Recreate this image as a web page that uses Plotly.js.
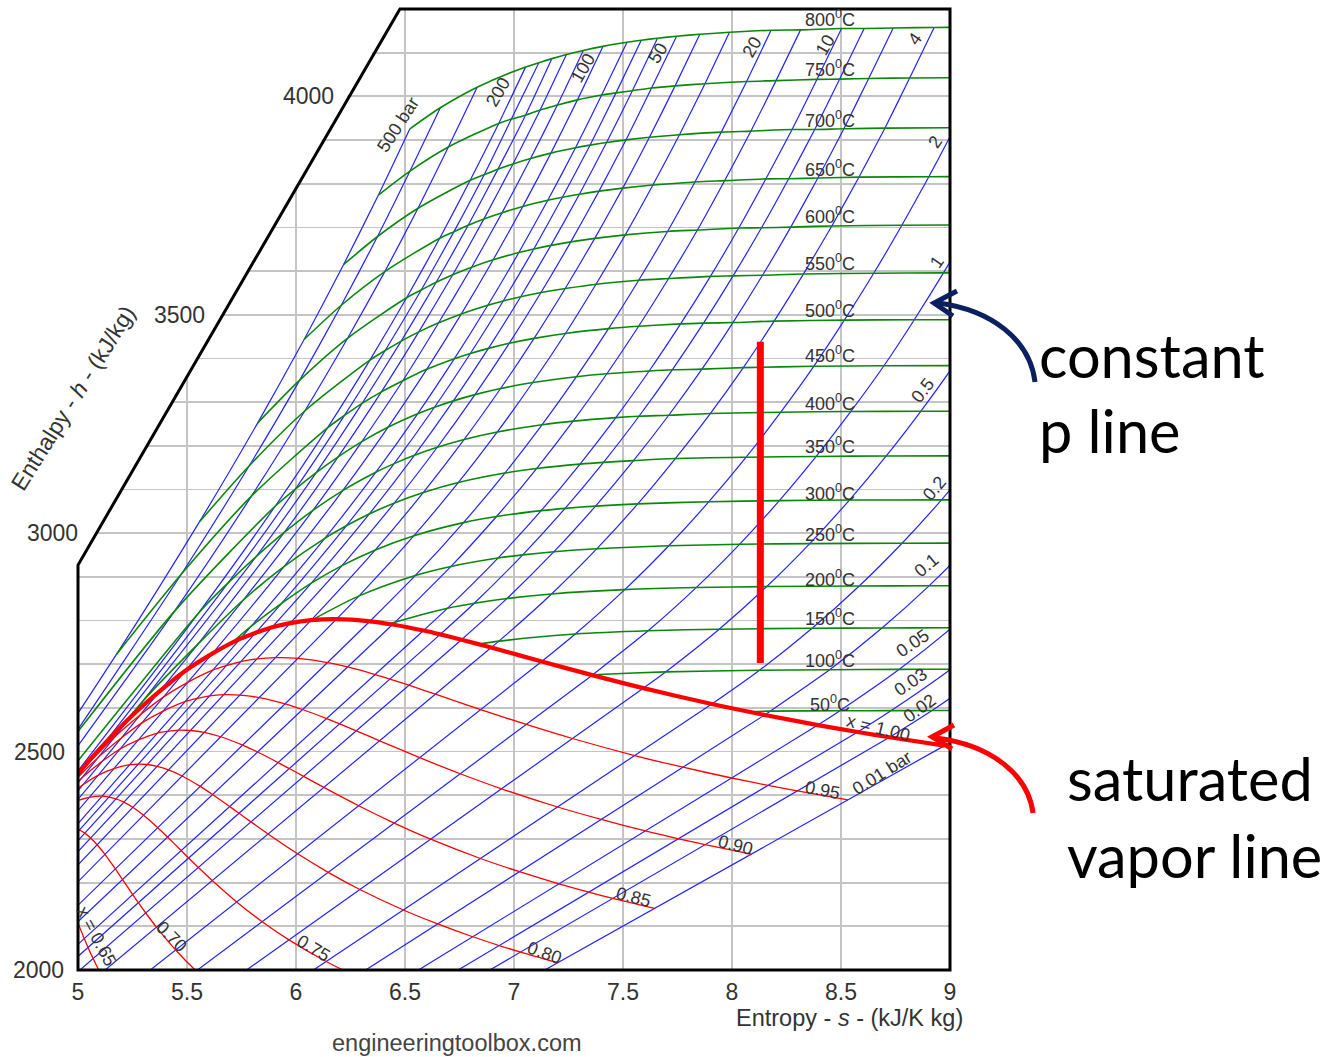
<!DOCTYPE html>
<html>
<head>
<meta charset="utf-8">
<script src="https://cdn.plot.ly/plotly-3.0.1.min.js"></script>
<style>
html,body{margin:0;padding:0;background:#ffffff;}
#chart{width:1326px;height:1057px;}
</style>
</head>
<body>
<div id="chart"></div>
<script>
const _ = null;

// ---------- isobars drawn (bar) ----------
const PRESSURES_BAR = [0.01, 0.02, 0.03, 0.05, 0.1, 0.2, 0.5, 1, 2, 4, 6, 8, 10, 15, 20, 30, 40, 50, 60, 70, 80, 100, 120, 140, 160, 180, 200, 300, 400, 500];

// ---------- isotherm temperatures (deg C) ----------
const TEMPS_C = [50, 100, 150, 200, 250, 300, 350, 400, 450, 500, 550, 600, 650, 700, 750, 800];

// ---------- saturation data for the sub-critical isobars (same order as PRESSURES_BAR) ----------
const SAT_SF = [0.1059, 0.2606, 0.3543, 0.4763, 0.6492, 0.8320, 1.0912, 1.3028, 1.5302, 1.7765, 1.9308, 2.0457, 2.1381, 2.3143, 2.4468, 2.6455, 2.7966, 2.9207, 3.0275, 3.1220, 3.2077, 3.3603, 3.4970, 3.6240, 3.7461, 3.8709, 4.0155];
const SAT_HF = [29.3, 73.4, 101.0, 137.8, 191.8, 251.4, 340.5, 417.5, 504.7, 604.7, 670.4, 720.9, 762.5, 844.6, 908.5, 1008.3, 1087.4, 1154.5, 1213.9, 1267.4, 1317.1, 1408.1, 1491.5, 1571.5, 1650.1, 1731.8, 1826.6];
const SAT_SG = [8.9749, 8.7227, 8.5766, 8.3939, 8.1501, 7.9073, 7.5931, 7.3589, 7.1270, 6.8955, 6.7593, 6.6616, 6.5850, 6.4430, 6.3390, 6.1857, 6.0696, 5.9737, 5.8902, 5.8148, 5.7450, 5.6159, 5.4924, 5.3737, 5.2441, 5.1038, 4.9299];
const SAT_HG = [2513.7, 2532.9, 2544.8, 2560.7, 2583.9, 2608.9, 2645.2, 2675.0, 2706.3, 2738.1, 2756.2, 2768.3, 2777.1, 2791.0, 2798.3, 2803.2, 2800.8, 2794.2, 2784.6, 2772.0, 2758.5, 2724.4, 2685.0, 2637.7, 2580.4, 2508.5, 2410.6];

// ---------- superheated entropy s (kJ/kg K): rows = PRESSURES_BAR, columns = TEMPS_C ----------
const SUPER_S = [
  [9.2377, _, _, _, _, _, _, _, _, _, _, _, _, _, _, _],
  [8.9175, 9.1906, _, _, _, _, _, _, _, _, _, _, _, _, _, _],
  [8.7305, 9.0034, 9.2438, _, _, _, _, _, _, _, _, _, _, _, _, _],
  [8.4948, 8.7676, 9.0081, 9.2237, _, _, _, _, _, _, _, _, _, _, _, _],
  [8.1749, 8.4479, 8.6882, 8.9038, 9.1002, 9.2813, _, _, _, _, _, _, _, _, _, _],
  [_, 8.1262, 8.3676, 8.5835, 8.7800, 8.9611, 9.1280, 9.2876, _, _, _, _, _, _, _, _],
  [_, 7.6953, 7.9413, 8.1592, 8.3568, 8.5386, 8.7076, 8.8658, 9.0166, 9.1549, 9.2890, _, _, _, _, _],
  [_, 7.3611, 7.6148, 7.8356, 8.0346, 8.2172, 8.3862, 8.5452, 8.6970, 8.8362, 8.9700, 9.0999, 9.2210, _, _, _],
  [_, _, 7.2810, 7.5081, 7.7100, 7.8941, 8.0649, 8.2236, 8.3750, 8.5153, 8.6500, 8.7792, 8.9030, 9.0220, 9.1360, 9.2479],
  [_, _, 6.9306, 7.1723, 7.3804, 7.5677, 7.7399, 7.9003, 8.0520, 8.1933, 8.3280, 8.4580, 8.5820, 8.7012, 8.8150, 8.9273],
  [_, _, _, 6.9683, 7.1833, 7.3740, 7.5481, 7.7097, 7.8620, 8.0041, 8.1400, 8.2695, 8.3940, 8.5132, 8.6270, 8.7395],
  [_, _, _, 6.8176, 7.0401, 7.2345, 7.4106, 7.5734, 7.7260, 7.8692, 8.0050, 8.1354, 8.2600, 8.3794, 8.4940, 8.6061],
  [_, _, _, 6.6955, 6.9265, 7.1246, 7.3029, 7.4670, 7.6200, 7.7642, 7.9010, 8.0311, 8.1550, 8.2755, 8.3900, 8.5024],
  [_, _, _, 6.4537, 6.7111, 6.9198, 7.1036, 7.2709, 7.4260, 7.5718, 7.7090, 7.8414, 7.9660, 8.0869, 8.2020, 8.3145],
  [_, _, _, _, 6.5475, 6.7684, 6.9583, 7.1292, 7.2866, 7.4337, 7.5720, 7.7043, 7.8300, 7.9509, 8.0670, 8.1791],
  [_, _, _, _, 6.2893, 6.5412, 6.7450, 6.9235, 7.0856, 7.2359, 7.3760, 7.5103, 7.6370, 7.7590, 7.8760, 7.9885],
  [_, _, _, _, _, 6.3639, 6.5843, 6.7714, 6.9386, 7.0922, 7.2350, 7.3706, 7.4990, 7.6214, 7.7390, 7.8523],
  [_, _, _, _, _, 6.2110, 6.4516, 6.6483, 6.8210, 6.9781, 7.1237, 7.2605, 7.3900, 7.5136, 7.6310, 7.7458],
  [_, _, _, _, _, 6.0703, 6.3357, 6.5432, 6.7219, 6.8826, 7.0307, 7.1693, 7.3000, 7.4247, 7.5430, 7.6582],
  [_, _, _, _, _, 5.9337, 6.2305, 6.4502, 6.6353, 6.8000, 6.9506, 7.0910, 7.2220, 7.3487, 7.4680, 7.5836],
  [_, _, _, _, _, 5.7937, 6.1321, 6.3658, 6.5579, 6.7266, 6.8799, 7.0221, 7.1550, 7.2822, 7.4020, 7.5185],
  [_, _, _, _, _, _, 5.9460, 6.2141, 6.4219, 6.5995, 6.7585, 6.9045, 7.0408, 7.1693, 7.2910, 7.4085],
  [_, _, _, _, _, _, 5.7580, 6.0775, 6.3020, 6.4900, 6.6545, 6.8057, 6.9456, 7.0760, 7.1990, 7.3180],
  [_, _, _, _, _, _, 5.5500, 5.9460, 6.1932, 6.3916, 6.5633, 6.7190, 6.8620, 6.9954, 7.1200, 7.2405],
  [_, _, _, _, _, _, 5.3000, 5.8172, 6.0927, 6.3033, 6.4826, 6.6431, 6.7898, 6.9259, 7.0530, 7.1740],
  [_, _, _, _, _, _, _, 5.6875, 5.9980, 6.2224, 6.4090, 6.5746, 6.7246, 6.8630, 6.9880, 7.1140],
  [_, _, _, _, _, _, _, 5.5525, 5.9043, 6.1446, 6.3389, 6.5075, 6.6593, 6.7990, 6.9300, 7.0534],
  [_, _, _, _, _, _, _, 4.4758, 5.4421, 5.7956, 6.0402, 6.2373, 6.4074, 6.5598, 6.6990, 6.8310],
  [_, _, _, _, _, _, _, 4.1162, 4.9459, 5.4746, 5.7857, 6.0170, 6.2079, 6.3740, 6.5230, 6.6620],
  [_, _, _, _, _, _, _, 3.9313, 4.5896, 5.1762, 5.5563, 5.8245, 6.0373, 6.2179, 6.3780, 6.5225]
];

// ---------- superheated enthalpy h (kJ/kg): rows = PRESSURES_BAR, columns = TEMPS_C ----------
const SUPER_H = [
  [2594.0, _, _, _, _, _, _, _, _, _, _, _, _, _, _, _],
  [2593.9, 2688.7, _, _, _, _, _, _, _, _, _, _, _, _, _, _],
  [2593.8, 2688.6, 2783.5, _, _, _, _, _, _, _, _, _, _, _, _, _],
  [2593.4, 2688.3, 2783.4, 2879.7, _, _, _, _, _, _, _, _, _, _, _, _],
  [2592.6, 2687.5, 2783.0, 2879.5, 2977.3, 3076.5, _, _, _, _, _, _, _, _, _, _],
  [_, 2686.2, 2782.3, 2879.0, 2977.0, 3076.3, 3177.0, 3279.4, _, _, _, _, _, _, _, _],
  [_, 2682.4, 2780.2, 2877.8, 2976.2, 3075.8, 3176.8, 3279.0, 3383.6, 3488.7, 3595.6, _, _, _, _, _],
  [_, 2675.8, 2776.6, 2875.5, 2974.5, 3074.5, 3175.7, 3278.6, 3383.3, 3488.7, 3596.0, 3705.6, 3816.5, _, _, _],
  [_, _, 2769.1, 2870.7, 2971.2, 3072.1, 3174.0, 3277.0, 3382.0, 3487.7, 3595.0, 3704.8, 3816.0, 3928.4, 4043.0, 4158.8],
  [_, _, 2752.8, 2860.9, 2964.5, 3067.1, 3170.9, 3273.9, 3379.0, 3485.5, 3593.5, 3703.3, 3815.0, 3927.2, 4042.0, 4157.8],
  [_, _, _, 2850.6, 2957.6, 3062.0, 3166.1, 3270.0, 3375.5, 3482.2, 3590.5, 3700.7, 3813.0, 3925.8, 4041.0, 4156.4],
  [_, _, _, 2839.7, 2950.4, 3056.9, 3162.2, 3267.7, 3374.0, 3480.8, 3589.0, 3699.1, 3811.5, 3924.1, 4039.5, 4155.3],
  [_, _, _, 2828.3, 2943.1, 3051.6, 3158.2, 3264.5, 3371.3, 3479.1, 3588.0, 3698.6, 3811.0, 3924.1, 4039.0, 4155.2],
  [_, _, _, 2796.0, 2923.9, 3038.2, 3148.0, 3256.5, 3365.0, 3473.7, 3583.0, 3694.1, 3807.0, 3920.5, 4036.0, 4152.2],
  [_, _, _, _, 2903.3, 3024.2, 3137.7, 3248.4, 3358.2, 3468.3, 3579.0, 3690.7, 3804.0, 3918.2, 4034.0, 4151.2],
  [_, _, _, _, 2856.5, 2994.3, 3116.1, 3231.7, 3344.9, 3457.2, 3570.0, 3682.8, 3797.0, 3912.2, 4029.0, 4146.9],
  [_, _, _, _, _, 2961.7, 3093.3, 3214.5, 3331.2, 3446.0, 3560.0, 3674.9, 3790.0, 3906.3, 4024.0, 4142.3],
  [_, _, _, _, _, 2925.7, 3069.3, 3196.7, 3317.2, 3434.7, 3550.9, 3666.9, 3783.0, 3900.3, 4019.0, 4137.7],
  [_, _, _, _, _, 2885.6, 3043.9, 3178.3, 3302.9, 3423.1, 3541.3, 3658.8, 3776.0, 3894.3, 4013.0, 4133.1],
  [_, _, _, _, _, 2839.2, 3016.9, 3159.2, 3288.3, 3411.4, 3531.6, 3650.6, 3769.0, 3888.3, 4008.0, 4128.5],
  [_, _, _, _, _, 2786.5, 2988.1, 3139.4, 3273.3, 3399.5, 3521.8, 3642.4, 3762.0, 3882.2, 4003.0, 4123.8],
  [_, _, _, _, _, _, 2924.0, 3097.5, 3242.4, 3375.1, 3502.0, 3625.8, 3748.1, 3870.0, 3992.0, 4114.5],
  [_, _, _, _, _, _, 2847.0, 3052.2, 3209.7, 3349.0, 3481.6, 3608.8, 3733.8, 3857.7, 3980.0, 4105.1],
  [_, _, _, _, _, _, 2746.0, 3001.6, 3174.8, 3323.5, 3460.8, 3591.7, 3719.5, 3845.3, 3969.0, 4095.8],
  [_, _, _, _, _, _, 2617.0, 2946.4, 3138.8, 3297.2, 3439.7, 3574.4, 3705.0, 3832.9, 3957.0, 4086.4],
  [_, _, _, _, _, _, _, 2885.7, 3101.5, 3269.6, 3418.1, 3556.8, 3690.3, 3820.4, 3948.0, 4076.9],
  [_, _, _, _, _, _, _, 2816.9, 3061.7, 3241.2, 3396.2, 3539.0, 3675.3, 3807.8, 3938.0, 4067.5],
  [_, _, _, _, _, _, _, 2152.8, 2821.0, 3084.8, 3279.7, 3446.7, 3598.7, 3743.9, 3884.0, 4021.0],
  [_, _, _, _, _, _, _, 1931.4, 2511.8, 2906.5, 3154.4, 3350.4, 3521.8, 3679.2, 3829.0, 3973.9],
  [_, _, _, _, _, _, _, 1874.0, 2284.7, 2722.5, 3025.4, 3252.6, 3443.5, 3614.6, 3774.0, 3925.8]
];

// ---------- saturated-vapour start of the isotherms 50..350 C ----------
const ISO_SAT_S = [8.0748, 7.3542, 6.8371, 6.4302, 6.0721, 5.7059, 5.2112];
const ISO_SAT_H = [2591.3, 2675.6, 2745.9, 2792.0, 2800.9, 2749.0, 2563.9];

// ---------- steam quality lines ----------
const QUALITY = [0.95, 0.90, 0.85, 0.80, 0.75, 0.70, 0.65];

// ---------- highlighted vertical (constant entropy) segment ----------
const ISENTROPE_S = [8.13, 8.13];
const ISENTROPE_H = [2703, 3438];

// ---------- label texts ----------
const ISOBAR_LABELS = ['500 bar', '200', '100', '50', '20', '10', '4', '2', '1', '0.5', '0.2', '0.1', '0.05', '0.03', '0.02', '0.01 bar'];
const QUALITY_LABELS = ['x = 1.00', '0.95', '0.90', '0.85', '0.80', '0.75', '0.70', 'x = 0.65'];
const H_TICKS = [4000, 3500, 3000, 2500, 2000];

// ================= build traces =================
const BLUE = 'rgb(35,35,255)';
const GREEN = 'rgb(10,135,10)';
const RED = 'rgb(255,0,0)';
const traces = [];

PRESSURES_BAR.forEach((p, i) => {
  const xs = [], ys = [];
  if (i < SAT_SG.length) { xs.push(SAT_SF[i], SAT_SG[i]); ys.push(SAT_HF[i], SAT_HG[i]); }
  SUPER_S[i].forEach((s, j) => { if (s !== null) { xs.push(s); ys.push(SUPER_H[i][j]); } });
  traces.push({type: 'scatter', mode: 'lines', x: xs, y: ys, name: p + ' bar',
    line: {color: BLUE, width: 1.2, shape: 'spline', smoothing: 0.6}, hoverinfo: 'skip', showlegend: false});
});

TEMPS_C.forEach((t, j) => {
  const xs = [], ys = [];
  if (j < ISO_SAT_S.length) { xs.push(ISO_SAT_S[j]); ys.push(ISO_SAT_H[j]); }
  for (let i = PRESSURES_BAR.length - 1; i >= 0; i--) {
    const s = SUPER_S[i][j];
    if (s !== null) { xs.push(s); ys.push(SUPER_H[i][j]); }
  }
  traces.push({type: 'scatter', mode: 'lines', x: xs, y: ys, name: t + ' C',
    line: {color: GREEN, width: 1.6, shape: 'spline', smoothing: 0.8}, hoverinfo: 'skip', showlegend: false});
});

QUALITY.forEach(q => {
  const xs = SAT_SG.map((sg, i) => SAT_SF[i] + q * (sg - SAT_SF[i]));
  const ys = SAT_HG.map((hg, i) => SAT_HF[i] + q * (hg - SAT_HF[i]));
  traces.push({type: 'scatter', mode: 'lines', x: xs, y: ys, name: 'x=' + q,
    line: {color: RED, width: 1.3, shape: 'spline', smoothing: 0.8}, hoverinfo: 'skip', showlegend: false});
});

traces.push({type: 'scatter', mode: 'lines', x: SAT_SG, y: SAT_HG, name: 'saturated vapour',
  line: {color: RED, width: 4.2, shape: 'spline', smoothing: 0.8}, hoverinfo: 'skip', showlegend: false});

traces.push({type: 'scatter', mode: 'lines', x: ISENTROPE_S, y: ISENTROPE_H, name: 'isentrope',
  line: {color: RED, width: 7}, hoverinfo: 'skip', showlegend: false});

// ================= annotations =================
const PX = px => (px - 78) / 872;
const PY = py => (970 - py) / 961;
const ARIAL = 'Liberation Sans, Arial, sans-serif';
const LBL_FONT = {family: ARIAL, size: 18, color: '#333333'};
const ann = [];

// isotherm labels
const ISO_LABEL_H = [2611, 2710, 2806, 2897, 3000, 3094, 3200, 3300, 3408, 3511, 3619, 3728, 3836, 3948, 4063, 4179];
TEMPS_C.forEach((t, j) => {
  ann.push({xref: 'x', yref: 'y', x: 8.45, y: ISO_LABEL_H[j], text: t + '<sup>0</sup>C', showarrow: false,
    font: LBL_FONT, xanchor: 'center', yanchor: 'middle'});
});

// isobar labels
const ISOBAR_POS = [[6.468, 3934, -57], [6.927, 4010, -60], [7.317, 4065, -60], [7.661, 4099, -58], [8.092, 4113, -60],
  [8.427, 4118, -60], [8.839, 4131, -55], [8.931, 3896, -55], [8.940, 3621, -55], [8.876, 3328, -52], [8.931, 3103, -50],
  [8.894, 2927, -40], [8.830, 2749, -34], [8.820, 2660, -34], [8.862, 2600, -36], [8.688, 2451, -32]];
ISOBAR_LABELS.forEach((txt, k) => {
  const p = ISOBAR_POS[k];
  ann.push({xref: 'x', yref: 'y', x: p[0], y: p[1], text: txt, textangle: p[2], showarrow: false,
    xanchor: 'center', yanchor: 'middle', font: LBL_FONT});
});

// quality labels
const QUALITY_POS = [[8.670, 2554, 14], [8.413, 2412, 11], [8.014, 2286, 15], [7.546, 2167, 15], [7.142, 2039, 20],
  [6.078, 2050, 31], [5.431, 2076, 45], [5.087, 2076, 62]];
QUALITY_LABELS.forEach((txt, k) => {
  const p = QUALITY_POS[k];
  ann.push({xref: 'x', yref: 'y', x: p[0], y: p[1], text: txt, textangle: p[2], showarrow: false,
    xanchor: 'center', yanchor: 'middle', font: LBL_FONT});
});

// enthalpy tick labels along the cut edge
const H_TICK_RIGHT_PX = [336, 207, 80, 67, 66];
H_TICKS.forEach((h, k) => {
  ann.push({xref: 'paper', yref: 'paper', x: PX(H_TICK_RIGHT_PX[k]), y: (h - 2000) / 2200, text: String(h),
    showarrow: false, xanchor: 'right', yanchor: 'middle',
    font: {family: ARIAL, size: 23, color: '#333333'}});
});

// axis titles & credit
ann.push({xref: 'paper', yref: 'paper', x: PX(73), y: PY(398), text: 'Enthalpy - <i>h</i> - (kJ/kg)', textangle: -58,
  xanchor: 'center', yanchor: 'middle',
  showarrow: false, font: {family: ARIAL, size: 23, color: '#333333'}});
ann.push({xref: 'paper', yref: 'paper', x: PX(965), y: PY(1018), text: 'Entropy - <i>s</i> - (kJ/K kg)',
  showarrow: false, xanchor: 'right', yanchor: 'middle', font: {family: ARIAL, size: 23.5, color: '#333333'}});
ann.push({xref: 'paper', yref: 'paper', x: PX(457), y: PY(1043), text: 'engineeringtoolbox.com',
  showarrow: false, xanchor: 'center', yanchor: 'middle', font: {family: ARIAL, size: 23.5, color: '#444444'}});

// call-out texts
const BIG = {family: 'Lato, sans-serif', size: 59.5, color: '#000000'};
ann.push({xref: 'paper', yref: 'paper', x: PX(1037), y: PY(355), text: 'constant', showarrow: false, xanchor: 'left', yanchor: 'middle', font: BIG});
ann.push({xref: 'paper', yref: 'paper', x: PX(1037), y: PY(430), text: 'p line', showarrow: false, xanchor: 'left', yanchor: 'middle', font: BIG});
ann.push({xref: 'paper', yref: 'paper', x: PX(1065), y: PY(778), text: 'saturated', showarrow: false, xanchor: 'left', yanchor: 'middle', font: BIG});
ann.push({xref: 'paper', yref: 'paper', x: PX(1065), y: PY(855), text: 'vapor line', showarrow: false, xanchor: 'left', yanchor: 'middle', font: BIG});

// ================= shapes =================
const pt = (px, py) => PX(px).toFixed(4) + ',' + PY(py).toFixed(4);
const shapes = [
  // cut-off corner of the chart
  {type: 'path', xref: 'paper', yref: 'paper', layer: 'above',
   path: 'M 0,0.4214 L 0,1.005 L 0.3692,1.005 Z', fillcolor: '#ffffff', line: {width: 0}},
  // frame
  {type: 'path', xref: 'paper', yref: 'paper', layer: 'above',
   path: 'M 0.3692,1 L 1,1 L 1,0 L 0,0 L 0,0.4214 Z', fillcolor: 'rgba(0,0,0,0)', line: {color: '#000000', width: 3}},
  // navy curved arrow
  {type: 'path', xref: 'paper', yref: 'paper', layer: 'above',
   path: 'M ' + pt(1035, 382) + ' C ' + pt(1030, 340) + ' ' + pt(992, 310) + ' ' + pt(938, 303),
   line: {color: '#0a2060', width: 5}},
  {type: 'path', xref: 'paper', yref: 'paper', layer: 'above',
   path: 'M ' + pt(957, 291) + ' L ' + pt(934, 303) + ' L ' + pt(953, 316),
   line: {color: '#0a2060', width: 5}},
  // red curved arrow
  {type: 'path', xref: 'paper', yref: 'paper', layer: 'above',
   path: 'M ' + pt(1033, 813) + ' C ' + pt(1028, 775) + ' ' + pt(992, 745) + ' ' + pt(936, 738),
   line: {color: '#ff0000', width: 5}},
  {type: 'path', xref: 'paper', yref: 'paper', layer: 'above',
   path: 'M ' + pt(954, 725) + ' L ' + pt(932, 737) + ' L ' + pt(952, 749),
   line: {color: '#ff0000', width: 5}}
];

const layout = {
  width: 1326, height: 1057,
  margin: {l: 78, r: 376, t: 9, b: 87, pad: 0},
  paper_bgcolor: '#ffffff', plot_bgcolor: '#ffffff',
  showlegend: false,
  xaxis: {range: [5, 9], tick0: 5, dtick: 0.5, showgrid: true, gridcolor: '#c4c4c4', gridwidth: 1.8,
    zeroline: false, showline: false, ticks: '', ticklabelstandoff: 6, fixedrange: true,
    tickfont: {family: ARIAL, size: 23, color: '#333333'}},
  yaxis: {range: [2000, 4200], tick0: 2000, dtick: 100, showgrid: true, gridcolor: '#c4c4c4', gridwidth: 1.8,
    zeroline: false, showline: false, ticks: '', showticklabels: false, fixedrange: true},
  shapes: shapes,
  annotations: ann
};

Plotly.newPlot('chart', traces, layout, {displayModeBar: false, staticPlot: true});
</script>
</body>
</html>
